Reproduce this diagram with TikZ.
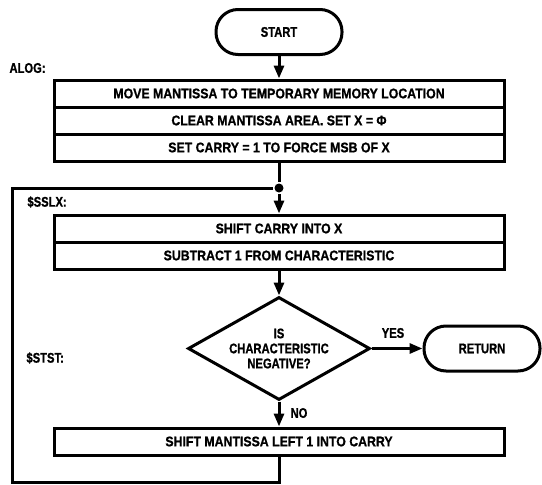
\documentclass[tikz,border=0pt]{standalone}
\usepackage{fontspec}
\newfontfamily\flowfont[FakeStretch=0.80,FakeBold=1]{Liberation Sans}
\newfontfamily\rowfont[FakeStretch=0.88,FakeBold=1]{Liberation Sans}
\usetikzlibrary{arrows.meta,shapes.geometric}
\begin{document}
\begin{tikzpicture}[x=1pt,y=-1pt,
  line width=3pt,
  rowbox/.style={draw, line width=3pt, minimum width=450pt, minimum height=27pt, inner sep=0pt,
    font=\rowfont\bfseries\fontsize{14}{15}\selectfont},
  pill/.style={draw, rounded corners=22pt, minimum height=45pt, inner sep=0pt,
    font=\flowfont\bfseries\fontsize{14}{15}\selectfont},
  decision/.style={draw, diamond, aspect=1.77, minimum width=182pt, minimum height=103pt, inner sep=0pt,
    align=center, font=\flowfont\bfseries\fontsize{14}{15}\selectfont},
  lbl/.style={inner sep=0pt, font=\flowfont\bfseries\fontsize{14}{15}\selectfont},
  arr/.style={-{Triangle[length=13pt,width=10pt]}},
  jdot/.style={circle, fill, inner sep=0pt, minimum size=9pt}
]
\useasboundingbox (0,0) rectangle (542,485);
\node[pill, minimum width=126pt] (start) at (279,32) {START};
\node[rowbox] (m1) at (279,93.5) {MOVE MANTISSA TO TEMPORARY MEMORY LOCATION};
\node[rowbox] (m2) at (279,120.5) {CLEAR MANTISSA AREA. SET X = Φ};
\node[rowbox] (m3) at (279,147.5) {SET CARRY = 1 TO FORCE MSB OF X};
\node[jdot] (j) at (279,188) {};
\node[rowbox] (s1) at (279,228.5) {SHIFT CARRY INTO X};
\node[rowbox] (s2) at (279,255.5) {SUBTRACT 1 FROM CHARACTERISTIC};
\node[decision] (d) at (279,348.5) {IS\\CHARACTERISTIC\\NEGATIVE?};
\node[pill, minimum width=116pt] (ret) at (482,348.5) {RETURN};
\node[rowbox] (sh) at (279,441.5) {SHIFT MANTISSA LEFT 1 INTO CARRY};
\coordinate (lb) at (12,482);
\node[lbl, anchor=west] (alog) at (8,68) {ALOG:};
\node[lbl, anchor=west] (sslx) at (26,202) {\$SSLX:};
\node[lbl, anchor=west] (stst) at (25,358) {\$STST:};
\node[lbl] (yes) at (393,333) {YES};
\node[lbl] (no) at (299,413) {NO};
\draw[arr] (start) -- (m1);
\draw (m3) -- (j);
\draw[arr] (j) -- (s1);
\draw[arr] (s2) -- (d);
\draw[arr] (d.east) -- (ret.west);
\draw[arr] (d) -- (sh);
\draw (sh.south) |- (lb) |- (j);
\end{tikzpicture}
\end{document}
